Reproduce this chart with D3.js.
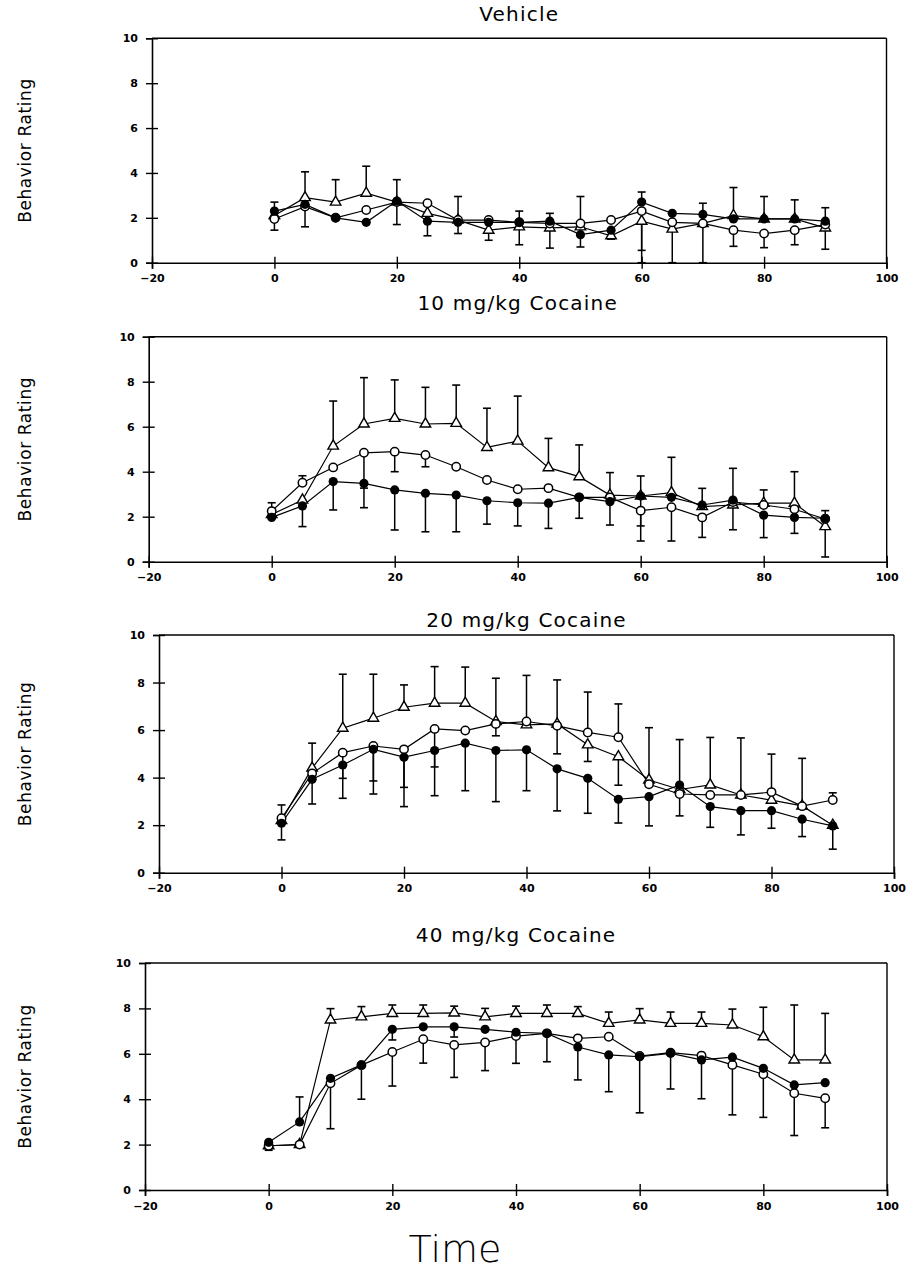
<!DOCTYPE html>
<html><head><meta charset="utf-8">
<script src="https://cdn.jsdelivr.net/npm/d3@7"></script>
<style>
html,body{margin:0;padding:0;background:#fff;}
svg{display:block;}
</style></head>
<body>
<svg id="chart" width="909" height="1285"></svg>
<script>
// ---------- data ----------
const times = [0,5,10,15,20,25,30,35,40,45,50,55,60,65,70,75,80,85,90];
const xTicks = [-20,0,20,40,60,80,100];
const yTicks = [0,2,4,6,8,10];
const panelTitles = ["Vehicle","10 mg/kg Cocaine","20 mg/kg Cocaine","40 mg/kg Cocaine"];
const yAxisLabel = "Behavior Rating";
const xAxisLabel = "Time";

// Vehicle
const vehFilled = [2.3,2.6,2.0,1.8,2.75,1.85,1.8,1.8,1.8,1.85,1.25,1.45,2.7,2.2,2.15,1.95,1.95,1.95,1.85];
const vehOpen   = [1.95,2.5,2.0,2.35,2.7,2.65,1.9,1.9,1.8,1.75,1.75,1.9,2.3,1.8,1.75,1.45,1.3,1.45,1.7];
const vehTri    = [2.1,2.9,2.7,3.1,2.7,2.2,1.9,1.45,1.6,1.55,1.6,1.2,1.85,1.5,1.75,2.1,1.95,1.95,1.55];
const vehFilledErr = [0.4,-1.0,0,0,0.95,-0.65,-0.5,0,0.5,0.35,-0.55,0,0.45,0,0.5,0,1.0,0.85,0.6];
const vehOpenErr   = [-0.5,0,0,0,0,0,0,0,0,0,1.2,0,-1.75,0,0,-0.72,-0.63,-0.65,0];
const vehTriErr    = [0,1.15,1.0,1.2,-1.0,0,1.05,-0.45,-0.8,-0.9,0,-0.15,-1.85,-1.5,-1.75,1.25,0,0,-0.95];

// 10 mg/kg
const c10Filled = [1.97,2.48,3.56,3.48,3.19,3.04,2.96,2.71,2.62,2.6,2.86,2.67,2.92,2.86,2.52,2.74,2.07,1.97,1.93];
const c10Open   = [2.25,3.51,4.19,4.84,4.89,4.74,4.22,3.63,3.22,3.27,2.86,2.86,2.27,2.42,1.97,2.65,2.52,2.33,1.9];
const c10Tri    = [2.1,2.74,5.14,6.12,6.37,6.12,6.15,5.08,5.36,4.18,3.78,2.96,2.92,3.07,2.45,2.52,2.6,2.6,1.56];
const c10FilledErr = [0,-0.92,-1.26,-1.08,-1.78,-1.71,-1.63,-1.04,-1.03,-1.12,-0.93,-1.04,-1.33,0,0.74,1.41,-1.0,-0.71,0.34];
const c10OpenErr   = [0.37,0.31,0,-1.57,-0.89,-0.52,0,0,0,0,0,0,-1.35,-1.5,-0.89,0,0.67,0,0];
const c10TriErr    = [0,0,2.0,2.06,1.71,1.63,1.7,1.74,2.0,1.3,1.41,1.0,0.89,1.57,0,-1.1,0,1.4,-1.35];

// 20 mg/kg
const c20Filled = [2.08,3.93,4.53,5.19,4.86,5.14,5.45,5.14,5.17,4.37,3.97,3.09,3.2,3.69,2.78,2.61,2.61,2.25,1.97];
const c20Open   = [2.29,4.18,5.05,5.33,5.19,6.05,5.98,6.26,6.36,6.18,5.9,5.7,3.72,3.31,3.27,3.27,3.39,2.8,3.06];
const c20Tri    = [2.2,4.4,6.08,6.5,6.96,7.13,7.13,6.36,6.22,6.26,5.38,4.88,3.9,3.5,3.69,3.27,3.05,2.81,2.0];
const c20FilledErr = [-0.7,-1.04,-1.4,-1.88,-2.08,-1.9,-2.0,-2.15,-1.72,-1.77,-1.47,-1.0,-1.23,-1.3,-0.87,-1.02,-0.74,-0.73,-0.98];
const c20OpenErr   = [0.56,0,-1.08,-1.47,-1.6,-1.6,0,-0.5,0,-1.18,1.7,1.4,0,0,0,0,1.6,0,0.3];
const c20TriErr    = [0,1.05,2.27,1.85,0.94,1.54,1.52,1.82,2.08,1.85,-0.7,-1.2,2.2,2.1,2.0,2.4,0,2.0,0];

// 40 mg/kg
const c40Filled = [2.1,3.0,4.92,5.51,7.08,7.19,7.19,7.08,6.95,6.9,6.3,5.95,5.87,6.02,5.73,5.85,5.36,4.63,4.73];
const c40Open   = [1.95,2.0,4.7,5.5,6.08,6.64,6.39,6.5,6.78,6.9,6.68,6.75,5.9,6.05,5.92,5.51,5.1,4.26,4.04];
const c40Tri    = [1.95,2.0,7.49,7.63,7.78,7.78,7.8,7.63,7.78,7.78,7.78,7.34,7.49,7.34,7.34,7.27,6.75,5.73,5.73];
const c40FilledErr = [0,1.1,0,0,-0.47,0,-0.45,0,0,-1.25,-1.45,-1.62,0,0,0,0,0,0,0];
const c40OpenErr   = [-0.2,0,-2.0,-1.5,-1.5,-1.05,-1.43,-1.24,-1.2,0,0,0,-2.5,-1.6,-1.9,-2.2,-1.9,-1.86,-1.3];
const c40TriErr    = [0,0,0.5,0.45,0.37,0.37,0.3,0.37,0.32,0.37,0.3,0.5,0.5,0.5,0.5,0.7,1.3,2.42,2.05];

// ---------- layout (pixels) ----------
const layout = [
  {xl:152, xr:886.5, yt:38.3, yb:262.7, titleY:21},
  {xl:148.7, xr:886.7, yt:336.7, yb:561.7, titleY:310},
  {xl:159, xr:894, yt:635, yb:872.7, titleY:627},
  {xl:145, xr:887, yt:963, yb:1190, titleY:942}
];

const panels = [
  {filled:vehFilled, open:vehOpen, tri:vehTri, fe:vehFilledErr, oe:vehOpenErr, te:vehTriErr},
  {filled:c10Filled, open:c10Open, tri:c10Tri, fe:c10FilledErr, oe:c10OpenErr, te:c10TriErr},
  {filled:c20Filled, open:c20Open, tri:c20Tri, fe:c20FilledErr, oe:c20OpenErr, te:c20TriErr},
  {filled:c40Filled, open:c40Open, tri:c40Tri, fe:c40FilledErr, oe:c40OpenErr, te:c40TriErr}
];

const svg = d3.select("#chart");
const FONT = "'DejaVu Sans', Verdana, sans-serif";

panels.forEach((p, i) => {
  const L = layout[i];
  const x = d3.scaleLinear().domain([-20,100]).range([L.xl, L.xr]);
  const y = d3.scaleLinear().domain([0,10]).range([L.yb, L.yt]);
  const g = svg.append("g");

  // frame top & right
  g.append("line").attr("x1",x(-20)).attr("x2",x(100)).attr("y1",y(10)).attr("y2",y(10))
    .attr("stroke","#000").attr("stroke-width",1.6);
  g.append("line").attr("x1",x(100)).attr("x2",x(100)).attr("y1",y(10)).attr("y2",y(0))
    .attr("stroke","#000").attr("stroke-width",1.4);

  // left axis
  const ya = g.append("g").attr("transform",`translate(${x(-20)},0)`)
    .call(d3.axisLeft(y).tickValues(yTicks).tickSize(6).tickPadding(8).tickFormat(d3.format("d")));
  ya.select(".domain").attr("stroke-width",1.6);
  ya.selectAll(".tick line").attr("x1",6).attr("stroke-width",1.4);
  ya.selectAll(".tick text").attr("font-family",FONT).attr("font-size",11).attr("font-weight","bold");

  // bottom axis
  const xa = g.append("g").attr("transform",`translate(0,${y(0)})`)
    .call(d3.axisBottom(x).tickValues(xTicks).tickSize(6).tickPadding(6).tickFormat(d3.format("d")));
  xa.select(".domain").attr("stroke-width",1.6);
  xa.selectAll(".tick line").attr("y1",-6).attr("stroke-width",1.4);
  xa.selectAll(".tick text").attr("font-family",FONT).attr("font-size",11).attr("font-weight","bold");

  // title
  svg.append("text").attr("x",(L.xl+L.xr)/2).attr("y",L.titleY).attr("text-anchor","middle")
    .attr("font-family",FONT).attr("font-size",20).attr("letter-spacing",1.2).text(panelTitles[i]);

  // y label
  svg.append("text").attr("transform",`translate(31,${(L.yt+L.yb)/2}) rotate(-90)`)
    .attr("text-anchor","middle").attr("font-family",FONT).attr("font-size",17)
    .attr("letter-spacing",0.6).text(yAxisLabel);

  const series = [
    {v:p.tri, e:p.te, kind:"tri"},
    {v:p.open, e:p.oe, kind:"open"},
    {v:p.filled, e:p.fe, kind:"filled"}
  ];
  const line = d3.line().x((d,j)=>x(times[j])).y(d=>y(d));

  // lines
  series.forEach(s => {
    g.append("path").datum(s.v).attr("d",line).attr("fill","none")
      .attr("stroke","#000").attr("stroke-width",1.2);
  });
  // error bars
  series.forEach(s => {
    s.e.forEach((err,j) => {
      if (!err) return;
      const cx = x(times[j]);
      const y1 = y(s.v[j]), y2 = y(Math.max(0, s.v[j]+err));
      g.append("line").attr("x1",cx).attr("x2",cx).attr("y1",y1).attr("y2",y2)
        .attr("stroke","#000").attr("stroke-width",1.5);
      g.append("line").attr("x1",cx-4).attr("x2",cx+4).attr("y1",y2).attr("y2",y2)
        .attr("stroke","#000").attr("stroke-width",1.6);
    });
  });
  // markers
  series.forEach(s => {
    s.v.forEach((val,j) => {
      const cx = x(times[j]), cy = y(val);
      if (s.kind === "filled") {
        g.append("circle").attr("cx",cx).attr("cy",cy).attr("r",4.6).attr("fill","#000");
      } else if (s.kind === "open") {
        g.append("circle").attr("cx",cx).attr("cy",cy).attr("r",4.2)
          .attr("fill","#fff").attr("stroke","#000").attr("stroke-width",1.5);
      } else {
        g.append("path").attr("d",d3.symbol(d3.symbolTriangle,48)())
          .attr("transform",`translate(${cx},${cy})`)
          .attr("fill","#fff").attr("stroke","#000").attr("stroke-width",1.4);
      }
    });
  });
});

svg.append("text").attr("x",455).attr("y",1262).attr("text-anchor","middle")
  .attr("font-family",FONT).attr("font-weight",200).attr("font-size",38).text(xAxisLabel);
</script>
</body></html>
